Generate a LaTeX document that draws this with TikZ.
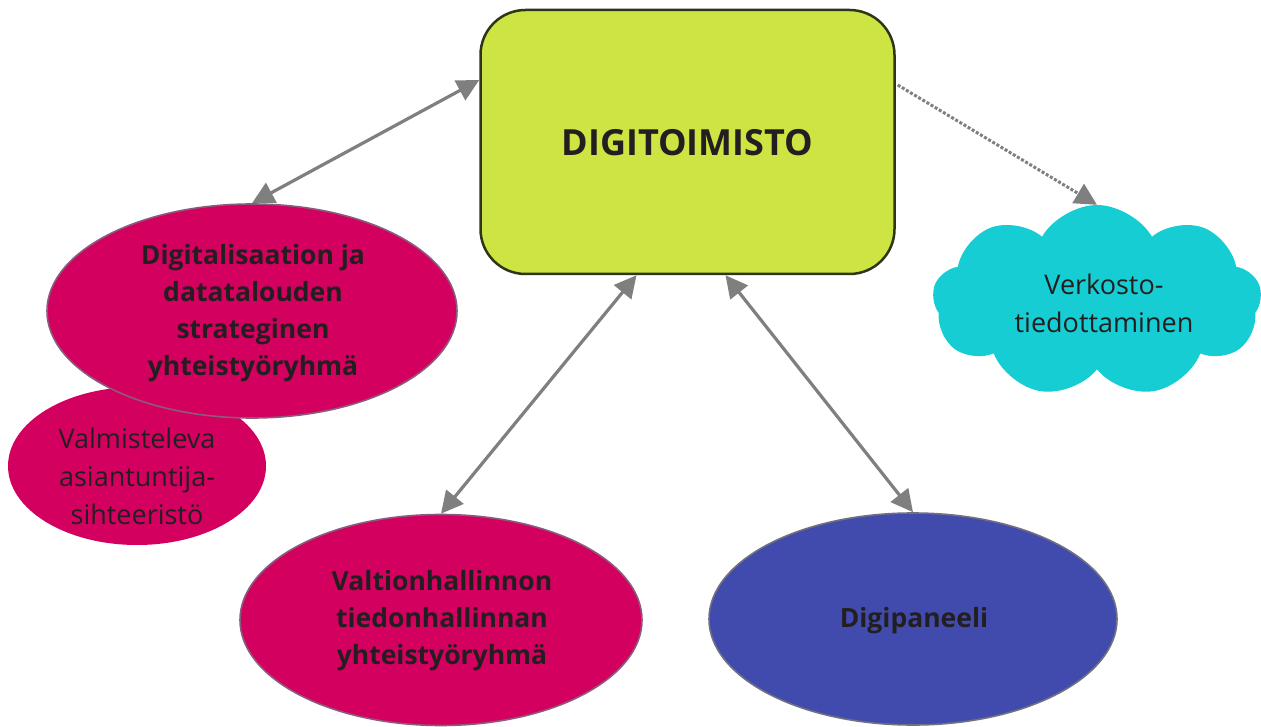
\documentclass[tikz,border=0pt]{standalone}
\usepackage{fontspec}
\setmainfont{Open Sans}
\usetikzlibrary{shapes.geometric,shapes.symbols,arrows.meta,calc}
\definecolor{lime}{HTML}{CDE442}
\definecolor{limeedge}{HTML}{2F3517}
\definecolor{magenta}{HTML}{D40060}
\definecolor{magedge}{HTML}{8A5C7C}
\definecolor{bluefill}{HTML}{414BAE}
\definecolor{blueedge}{HTML}{707080}
\definecolor{cyanfill}{HTML}{17CDD4}
\definecolor{txt}{HTML}{231F20}
\definecolor{arr}{HTML}{7F7F7F}
\tikzset{
  oval/.style={ellipse, inner sep=0pt, line width=1.6pt},
  lbl/.style={align=center, text=txt, font=\fontsize{27}{38}\selectfont},
  blbl/.style={align=center, text=txt, font=\fontsize{26.5}{37}\selectfont\bfseries},
  tip/.style={Triangle[length=22pt,width=22pt]},
  link/.style={draw=arr, line width=3.2pt, {Triangle[length=22pt,width=22pt]}-{Triangle[length=22pt,width=22pt]}},
  dotlink/.style={draw=arr, line width=3pt, dash pattern=on 3pt off 1.8pt, -{Triangle[length=22pt,width=22pt]}}
}
\begin{document}
\begin{tikzpicture}[x=1pt,y=-1pt]
\path[use as bounding box, fill=white] (0,0) rectangle (1261,727);
% main box
\node[draw=limeedge, fill=lime, line width=2.5pt, rounded corners=45pt, minimum width=414pt, minimum height=264pt, inner sep=0pt] (main) at (687.5,142) {};
\node[text=txt, font=\fontsize{36}{42}\selectfont\bfseries] (maintext) at (687.5,143) {DIGITOIMISTO};
% Valmisteleva (behind)
\node[oval, fill=magenta, minimum width=258pt, minimum height=158pt] (valm) at (137,466) {};
\node[lbl] (valmt) at (137,476) {Valmisteleva\\asiantuntija-\\sihteeristö};
% Digitalisaation
\node[oval, draw=magedge, fill=magenta, minimum width=410pt, minimum height=214pt] (digi) at (252,311) {};
\node[blbl] (digit) at (253,313) {Digitalisaation ja\\datatalouden\\strateginen\\yhteistyöryhmä};
% Valtionhallinnon
\node[oval, draw=magedge, fill=magenta, minimum width=402pt, minimum height=211pt] (valt) at (441,620) {};
\node[blbl] (valtt) at (442,621) {Valtionhallinnon\\tiedonhallinnan\\yhteistyöryhmä};
% Digipaneeli
\node[oval, draw=blueedge, fill=bluefill, minimum width=408pt, minimum height=212pt] (pan) at (913,619) {};
\node[blbl] (pant) at (914,621) {Digipaneeli};
% cloud
\node[cloud, cloud puffs=9, cloud puff arc=120, aspect=1.7, fill=cyanfill, minimum width=329pt, minimum height=192pt, inner sep=0pt] (cloud) at (1097,301) {};
\node[lbl] (cloudt) at (1104,303) {Verkosto-\\tiedottaminen};
% connectors
\draw[link] (digi.north) -- ($(main.west)+(0,-62)$);
\draw[link] ($(main.south)+(-51,0)$) -- (valt.north);
\draw[link] ($(main.south)+(38,0)$) -- (pan.north);
\draw[dotlink] ($(main.east)+(2,-57)$) -- (cloud.north);
\end{tikzpicture}
\end{document}
